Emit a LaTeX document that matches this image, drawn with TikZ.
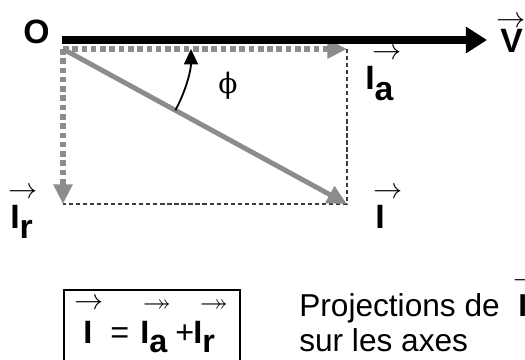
\documentclass[tikz,border=0pt]{standalone}
\usepackage{amsmath, amssymb}
\usepackage{fontspec}
\setmainfont{Liberation Sans}
\newfontfamily\phifont{DejaVu Serif}
\usepackage{tikz}
\usetikzlibrary{positioning, arrows.meta}

\definecolor{vecgray}{RGB}{140,140,140}
\definecolor{guidegray}{RGB}{60,60,60}
\newcommand{\isub}[1]{\raisebox{-0.3em}{#1}}

\begin{document}
\begin{tikzpicture}[x=0.025cm, y=-0.025cm,
        lbl/.style={font=\fontsize{24}{24}\selectfont\bfseries, inner sep=0pt, anchor=base west},
        vecarr/.style={font=\fontsize{20}{20}\selectfont, inner sep=0pt},
        eqtok/.style={font=\fontsize{23}{23}\selectfont, inner sep=0pt, anchor=base west},
        txt/.style={font=\fontsize{22.5}{22.5}\selectfont, inner sep=0pt, anchor=base west},
        axis/.style={line width=5pt, -{Triangle[length=15pt, width=18pt]}},
        proj/.style={draw=vecgray, line width=3.6pt, dash pattern=on 4pt off 2.6pt, -{Triangle[length=14pt, width=13pt]}},
        current/.style={draw=vecgray, line width=3.5pt, -{Triangle[length=14pt, width=13pt]}},
        guide/.style={draw=guidegray, line width=1.1pt, dash pattern=on 3pt off 2pt},
        anglearr/.style={line width=1.3pt, -{Triangle[length=11pt, width=10pt]}},
        eqbox/.style={draw, line width=1.4pt, minimum width=4.4cm, minimum height=2.5cm, anchor=north west}]
    \useasboundingbox (0,0) rectangle (525,360);
    \clip (0,0) rectangle (525,360);

    % points of the diagram
    \coordinate (O) at (63,49);
    \coordinate (Ia) at (347,49);
    \coordinate (I) at (347,204);
    \coordinate (Ir) at (63,204);
    \coordinate (Vs) at (62,40);
    \coordinate (Ve) at (487,40);
    \coordinate (phiS) at ([shift={(28.6:128)}]O);

    % rectangle of the projections
    \draw[guide] (Ia) -- (I) -- (Ir);
    \draw[proj] (O) -- (Ia);
    \draw[proj] (O) -- (Ir);
    \draw[current] (O) -- (I);
    \draw[axis] (Vs) -- (Ve);
    \draw[anglearr] (phiS) arc[start angle=28.6, end angle=0, radius=128];

    % labels
    \node[lbl] (Olbl) at (23,44) {O};
    \node[lbl] (Vlbl) at (500,53) {V};
    \node[lbl] (Ialbl) at (365,90) {I\isub{a}};
    \node[lbl] (Ilbl) at (375,228) {I};
    \node[lbl] (Irlbl) at (10,228) {I\isub{r}};
    \node[vecarr] (Varr) at (511,22) {$\rightarrow$};
    \node[vecarr] (Iaarr) at (387,54) {$\rightarrow$};
    \node[vecarr] (Iarr) at (388,193) {$\rightarrow$};
    \node[vecarr] (Irarr) at (23,193) {$\rightarrow$};
    \node[font=\fontsize{20}{20}\selectfont\phifont, inner sep=0pt] (phi) at (228,86) {ϕ};

    % relation in the box
    \node[eqbox] (box) at (63,289) {};
    \node[eqtok] (eqI) at (83,343) {\textbf{I}};
    \node[eqtok] (eqeq) at (110,343) {=};
    \node[eqtok] (eqIa) at (140,343) {\textbf{I\isub{a}}};
    \node[eqtok] (eqplus) at (175,343) {+};
    \node[eqtok] (eqIr) at (193,343) {\textbf{I\isub{r}}};
    \node[vecarr] (eqIarr) at (89,304) {$\rightarrow$};
    \node[vecarr] (eqIaarr) at (157,304) {$\twoheadrightarrow$};
    \node[vecarr] (eqIrarr) at (214,304) {$\twoheadrightarrow$};

    % text on the right
    \node[txt] (proj1) at (299,316) {Projections de};
    \node[txt] (proj2) at (299,351) {sur les axes};
    \node[txt, font=\fontsize{22.5}{22.5}\selectfont\bfseries] (projI) at (518,316) {I};
    \node[vecarr] (projIarr) at (528,282) {$\rightarrow$};
\end{tikzpicture}
\end{document}
